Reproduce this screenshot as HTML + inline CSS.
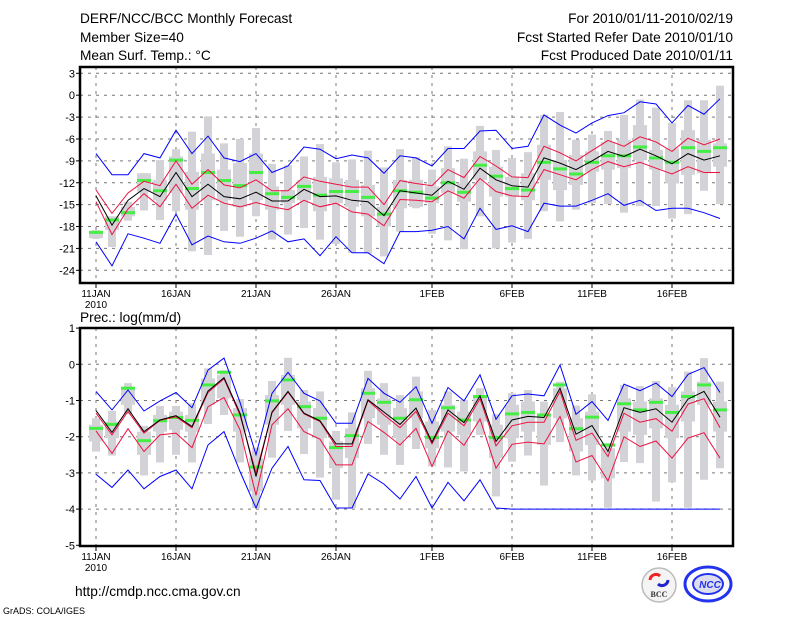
<!DOCTYPE html>
<html><head><meta charset="utf-8">
<style>
html,body{margin:0;padding:0;background:#fff;}
svg{display:block;font-family:"Liberation Sans","DejaVu Sans",sans-serif;}
</style></head>
<body>
<svg id="chart" width="800" height="618" viewBox="0 0 800 618" xmlns="http://www.w3.org/2000/svg">
<g font-size="13.7" fill="#000">
<text x="80" y="23">DERF/NCC/BCC Monthly Forecast</text>
<text x="80" y="42">Member Size=40</text>
<text x="80" y="60">Mean Surf. Temp.: °C</text>
<text x="733" y="23" text-anchor="end">For 2010/01/11-2010/02/19</text>
<text x="733" y="42" text-anchor="end">Fcst Started Refer Date 2010/01/10</text>
<text x="733" y="60" text-anchor="end">Fcst Produced Date 2010/01/11</text>
<text x="80" y="322">Prec.: log(mm/d)</text>
<text x="75" y="596">http://cmdp.ncc.cma.gov.cn</text>
<text x="3" y="614" font-size="9">GrADS: COLA/IGES</text>
</g>
<g>
<circle cx="659" cy="585" r="17" fill="#f4f4f4" stroke="#bbb" stroke-width="1.5"/>
<path d="M650 580 a6 6 0 0 1 10 -4" stroke="#e22" stroke-width="3" fill="none"/>
<path d="M668 580 a6 6 0 0 1 -10 4" stroke="#22c" stroke-width="3" fill="none"/>
<text x="659" y="597" font-size="8" font-weight="bold" text-anchor="middle" fill="#333" font-family="Liberation Serif,serif">BCC</text>
</g>
<g>
<ellipse cx="708" cy="584" rx="23" ry="17" fill="#fff" stroke="#2233ee" stroke-width="3"/>
<ellipse cx="708" cy="584" rx="15" ry="10" fill="#dde" stroke="#2233ee" stroke-width="2"/>
<text x="710" y="588" font-size="10" font-weight="bold" font-style="italic" text-anchor="middle" fill="#2233ee">NCC</text>
</g>
<g id="top"></g>
<g id="bot"></g>
</svg>
<script>
// ---- Temperature data (°C) ----
const days = ["11JAN","16JAN","21JAN","26JAN","1FEB","6FEB","11FEB","16FEB"];
const dayIdx = [0,5,10,15,21,26,31,36];
const tTicks = [3,0,-3,-6,-9,-12,-15,-18,-21,-24];
const tMax = [-8.0,-10.9,-10.9,-8.0,-8.6,-4.8,-8.0,-5.6,-8.6,-9.1,-8.0,-10.6,-9.7,-7.1,-7.4,-8.7,-8.2,-8.6,-10.7,-8.3,-8.6,-9.7,-7.3,-7.3,-4.9,-4.8,-7.3,-7.0,-2.7,-4.1,-5.2,-3.8,-2.8,-2.4,-0.9,-1.2,-3.8,-1.4,-2.6,-0.5];
const tMin = [-20.1,-23.4,-19.0,-19.6,-20.3,-16.3,-20.5,-19.3,-20.1,-20.3,-19.6,-18.6,-20.1,-19.7,-22.0,-19.4,-21.6,-21.6,-23.1,-18.7,-18.7,-18.5,-18.0,-19.7,-15.5,-18.4,-17.9,-18.7,-14.8,-15.2,-15.2,-14.4,-13.5,-15.1,-14.4,-15.8,-15.5,-15.5,-16.1,-16.9];
const tMean = [-13.8,-17.8,-14.4,-12.8,-13.9,-10.6,-13.9,-12.2,-13.9,-14.2,-13.3,-14.5,-14.5,-12.9,-13.9,-13.8,-14.4,-14.6,-16.5,-13.1,-13.4,-13.7,-11.8,-12.9,-10.0,-11.6,-12.4,-12.6,-8.6,-9.3,-10.2,-9.0,-7.7,-8.4,-7.4,-8.3,-9.4,-8.0,-8.9,-8.3];
const tUp = [-13.0,-16.2,-13.4,-11.8,-12.4,-9.0,-12.2,-10.2,-12.3,-12.7,-11.6,-13.1,-13.1,-11.2,-11.8,-12.2,-12.6,-12.6,-15.0,-11.7,-12.1,-12.4,-10.2,-11.3,-8.4,-9.7,-11.2,-11.3,-7.0,-7.9,-9.0,-7.6,-6.2,-7.0,-5.7,-6.4,-7.7,-5.9,-6.8,-6.0];
const tLo = [-14.6,-19.1,-15.6,-13.5,-15.3,-12.2,-15.5,-13.7,-14.8,-15.3,-14.7,-15.3,-15.7,-14.4,-15.3,-14.8,-16.0,-16.3,-17.9,-14.3,-14.4,-14.6,-13.1,-14.1,-11.4,-13.2,-13.8,-13.9,-10.2,-10.9,-11.6,-10.2,-9.1,-9.8,-9.2,-10.0,-10.8,-9.8,-10.6,-10.6];
const tObs = [-18.8,-17.1,-16.1,-11.7,-13.1,-8.9,-12.8,-10.6,-11.7,-12.4,-10.6,-13.5,-14.0,-12.5,-13.7,-13.2,-13.2,-14.0,-16.3,-13.1,-13.3,-14.1,-12.0,-13.3,-9.6,-11.1,-12.8,-13.0,-9.2,-10.1,-10.8,-9.2,-8.3,-8.3,-7.1,-8.6,-9.2,-7.2,-7.7,-7.2];
const tWhiskTop = [-18.5,-16.6,-14.6,-10.7,-8.9,-7.4,-5.0,-2.9,-6.6,-6.0,-4.5,-9.4,-9.6,-8.4,-6.7,-9.2,-8.8,-7.6,-9.9,-7.4,-8.5,-10.2,-7.0,-8.7,-4.2,-7.5,-8.6,-7.8,-2.7,-2.3,-6.1,-5.4,-4.9,-2.7,-0.6,-1.7,-3.8,-0.7,-0.7,1.3];
const tWhiskBot = [-19.7,-20.8,-17.2,-15.8,-17.1,-15.9,-21.4,-21.9,-18.6,-19.4,-16.6,-19.8,-19.1,-18.2,-19.8,-20.4,-21.6,-21.7,-22.1,-18.7,-15.5,-19.0,-19.9,-21.1,-16.6,-21.0,-20.2,-19.7,-15.9,-17.3,-15.7,-14.8,-14.9,-16.1,-15.2,-15.2,-16.9,-16.3,-13.1,-14.9];
const tBoxTop = [-18.6,-16.6,-15.3,-10.7,-11.6,-8.4,-10.5,-8.0,-10.2,-9.3,-8.0,-12.5,-13.0,-11.6,-11.2,-11.4,-11.6,-12.3,-15.3,-11.6,-11.6,-12.5,-10.0,-12.1,-7.7,-9.8,-11.2,-10.7,-6.8,-8.9,-8.2,-7.7,-6.4,-6.1,-4.1,-7.5,-7.3,-4.8,-6.1,-6.6];
const tBoxBot = [-19.6,-18.5,-16.6,-13.2,-14.4,-13.4,-15.7,-14.4,-14.4,-15.3,-14.4,-15.7,-14.8,-14.4,-15.9,-14.8,-15.3,-16.6,-18.0,-15.5,-15.3,-14.8,-13.4,-14.6,-11.6,-13.9,-13.9,-14.4,-11.6,-13.0,-12.3,-10.5,-10.2,-10.0,-8.9,-10.2,-12.1,-10.9,-10.7,-9.8];
// ---- Precipitation data log(mm/d) ----
const pTicks = [1,0,-1,-2,-3,-4,-5];
const pMax = [-0.75,-1.26,-0.71,-1.29,-1.01,-0.78,-1.20,-0.16,0.17,-1.05,-2.50,-0.80,-0.22,-0.80,-1.01,-1.63,-1.63,-0.39,-0.80,-1.05,-0.62,-1.63,-0.64,-1.01,-0.29,-1.52,-0.87,-0.82,-0.87,-0.02,-1.38,-1.03,-1.55,-0.55,-0.73,-0.52,-0.89,-0.28,-0.09,-0.78];
const pMin = [-3.04,-3.40,-2.92,-3.44,-3.10,-2.92,-3.44,-2.23,-1.86,-2.96,-3.97,-2.87,-2.27,-3.19,-3.21,-3.97,-3.97,-3.03,-3.31,-3.72,-3.10,-3.97,-3.26,-3.77,-3.19,-3.97,-4,-4,-4,-4,-4,-4,-4,-4,-4,-4,-4,-4,-4,-4];
const pMean = [-1.28,-1.88,-1.23,-1.86,-1.54,-1.42,-1.72,-0.74,-0.37,-1.35,-3.10,-1.32,-0.75,-1.35,-1.56,-2.20,-2.20,-0.98,-1.32,-1.66,-1.21,-2.15,-1.26,-1.61,-0.87,-2.13,-1.54,-1.44,-1.47,-0.66,-1.93,-1.69,-2.41,-1.20,-1.33,-1.23,-1.60,-0.96,-0.75,-1.46];
const pUp = [-1.35,-1.95,-1.30,-1.90,-1.55,-1.45,-1.75,-0.78,-0.40,-1.40,-3.00,-1.34,-0.77,-1.37,-1.58,-2.27,-2.27,-1.00,-1.40,-1.75,-1.30,-2.20,-1.35,-1.70,-0.95,-2.25,-1.70,-1.60,-1.60,-0.75,-2.10,-1.90,-2.55,-1.35,-1.60,-1.50,-1.85,-1.10,-0.95,-1.75];
const pLo = [-1.84,-2.46,-1.78,-2.41,-1.95,-1.90,-2.30,-1.17,-0.92,-1.81,-3.62,-1.67,-1.23,-1.86,-2.07,-2.78,-2.78,-1.58,-1.88,-2.23,-1.77,-2.82,-1.84,-2.24,-1.51,-2.87,-2.21,-2.15,-2.20,-1.44,-2.70,-2.52,-3.22,-2.00,-2.27,-2.12,-2.59,-2.04,-1.89,-2.59];
const pObs = [-1.77,-1.66,-0.66,-2.11,-1.56,-1.47,-1.55,-0.57,-0.22,-1.40,-2.84,-1.01,-0.43,-1.17,-1.49,-2.30,-1.97,-0.80,-1.05,-1.49,-0.98,-2.02,-1.20,-1.54,-0.89,-2.02,-1.37,-1.33,-1.40,-0.57,-1.78,-1.46,-2.23,-1.09,-1.26,-1.05,-1.33,-0.89,-0.57,-1.26];
const pWhiskTop = [-1.49,-1.29,-0.52,-1.70,-1.15,-1.15,-1.08,-0.11,-0.16,-0.96,-2.30,-0.46,0.18,-0.71,-0.75,-1.84,-1.33,-0.18,-0.52,-0.85,-0.34,-1.26,-0.75,-0.98,-0.66,-1.38,-0.80,-0.71,-1.03,-0.48,-1.14,-0.83,-2.18,-0.57,-0.60,-0.46,-0.63,-0.20,0.17,-0.48];
const pWhiskBot = [-2.41,-2.52,-1.38,-3.07,-2.71,-2.50,-2.71,-1.65,-1.40,-2.71,-3.97,-2.58,-1.84,-2.48,-3.13,-3.74,-3.97,-2.20,-2.50,-2.78,-2.34,-2.82,-2.85,-2.96,-1.95,-3.65,-2.69,-2.52,-3.35,-2.15,-3.07,-3.21,-3.96,-2.70,-2.73,-3.79,-3.26,-3.96,-3.19,-2.87];
const pBoxTop = [-1.67,-1.58,-0.66,-1.86,-1.40,-1.31,-1.40,-0.39,-0.29,-1.21,-2.59,-0.85,-0.29,-1.03,-1.21,-2.13,-1.77,-0.66,-0.94,-1.21,-0.75,-1.58,-1.12,-1.31,-0.85,-1.67,-1.12,-1.03,-1.40,-0.66,-1.49,-1.31,-2.32,-0.94,-1.03,-0.94,-1.12,-0.75,-0.48,-1.03];
const pBoxBot = [-2.13,-2.04,-1.12,-2.50,-1.86,-1.81,-1.86,-1.12,-0.94,-1.86,-3.51,-1.67,-1.12,-1.77,-2.04,-2.87,-2.59,-1.49,-1.67,-2.04,-1.49,-2.32,-1.86,-1.95,-1.58,-2.59,-2.04,-1.86,-2.23,-1.49,-2.41,-2.23,-3.15,-1.86,-1.95,-1.77,-2.04,-1.58,-1.12,-1.86];

const NS = "http://www.w3.org/2000/svg";
const X0 = 80, X1 = 733;
function xs(i){ return 96 + 16*i; }
function mk(tag, attrs, parent){
  const e = document.createElementNS(NS, tag);
  for (const k in attrs) e.setAttribute(k, attrs[k]);
  parent.appendChild(e);
  return e;
}
function drawPanel(g, top, bot, ys, ticks, S, prefix){
  ticks.forEach((t, k) => {
    const y = ys(t);
    if (y > top + 2 && y < bot - 2) {
      const l = mk('line', {x1:X0, x2:X1, y1:y, y2:y, stroke:'#777', 'stroke-width':1, 'stroke-dasharray':'3,5'}, g);
      
      
    }
    const tl = mk('text', {x:75, y:y+4, 'font-size':11, 'text-anchor':'end'}, g);
    tl.textContent = String(t);
    
    
    const tm = mk('line', {x1:X0-4, x2:X0, y1:y, y2:y, stroke:'#000'}, g);
    
    
  });
  dayIdx.forEach((d, k) => {
    const x = xs(d);
    const l = mk('line', {x1:x, x2:x, y1:top, y2:bot, stroke:'#777', 'stroke-width':1, 'stroke-dasharray':'3,5'}, g);
    
    
    const tm = mk('line', {x1:x, x2:x, y1:bot, y2:bot+5, stroke:'#000'}, g);
    
    
    const tl = mk('text', {x:x, y:bot+14, 'font-size':10, 'text-anchor':'middle'}, g);
    tl.textContent = days[k];
    
    
  });
  const yr = mk('text', {x:96, y:bot+25, 'font-size':10, 'text-anchor':'middle'}, g);
  yr.textContent = '2010';
  
  
  S.wt.forEach((v, i) => {
    const x = xs(i);
    const w = mk('rect', {x:x-4, y:ys(v), width:8, height:Math.max(1, ys(S.wb[i]) - ys(v)), fill:'#d3d3d7'}, g);
    
    
    const b = mk('rect', {x:x-7, y:ys(S.bt[i]), width:14, height:Math.max(1, ys(S.bb[i]) - ys(S.bt[i])), fill:'#d3d3d7'}, g);
    
    
  });
  S.obs.forEach((v, i) => {
    const r = mk('rect', {x:xs(i)-7, y:ys(v)-1.5, width:14, height:3, fill:'#44ee44'}, g);
    
    
  });
  function line(arr, color, name){
    const pts = arr.map((v, i) => xs(i) + ',' + ys(v).toFixed(1)).join(' ');
    const p = mk('polyline', {points:pts, fill:'none', stroke:color, 'stroke-width':1}, g);
    
    
  }
  line(S.max, '#0000ff', prefix + '-max-line');
  line(S.min, '#0000ff', prefix + '-min-line');
  line(S.up, '#ee1144', prefix + '-upper-line');
  line(S.lo, '#ee1144', prefix + '-lower-line');
  line(S.mean, '#000000', prefix + '-mean-line');
  const fr = mk('rect', {x:X0, y:top, width:X1-X0, height:bot-top, fill:'none', stroke:'#000', 'stroke-width':2.5}, g);
  
  
}
const yT = v => 95.2 - v*7.296;
const yP = v => 364.3 - v*36.2;
drawPanel(document.getElementById('top'), 67, 283, yT, tTicks,
  {wt:tWhiskTop, wb:tWhiskBot, bt:tBoxTop, bb:tBoxBot, obs:tObs, max:tMax, min:tMin, up:tUp, lo:tLo, mean:tMean}, 'temp');
drawPanel(document.getElementById('bot'), 328, 546, yP, pTicks,
  {wt:pWhiskTop, wb:pWhiskBot, bt:pBoxTop, bb:pBoxBot, obs:pObs, max:pMax, min:pMin, up:pUp, lo:pLo, mean:pMean}, 'prec');
</script>
</body></html>
